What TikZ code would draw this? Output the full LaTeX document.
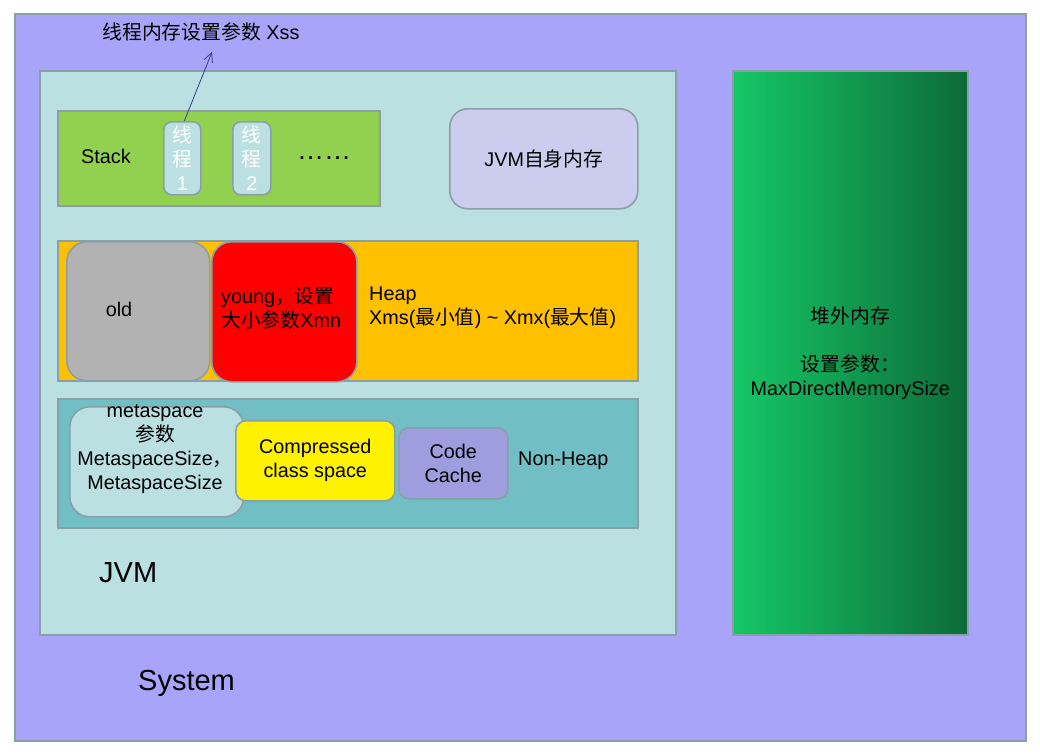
\documentclass[tikz,border=0pt]{standalone}
\usepackage{fontspec}
\setmainfont{Liberation Sans}
\newfontfamily\cjk{Noto Sans CJK SC}
\usetikzlibrary{arrows.meta}
\newcommand\zh[1]{{\cjk #1}}

\definecolor{sysbg}{RGB}{168,164,250}
\definecolor{jvmbg}{RGB}{186,224,226}
\definecolor{stackbg}{RGB}{146,208,80}
\definecolor{selfbg}{RGB}{204,204,238}
\definecolor{heapbg}{RGB}{255,192,0}
\definecolor{oldbg}{RGB}{178,178,178}
\definecolor{nonheapbg}{RGB}{114,190,197}
\definecolor{codebg}{RGB}{158,158,222}
\definecolor{edgegray}{RGB}{138,160,166}
\definecolor{arrowblue}{RGB}{60,60,150}
\definecolor{offleft}{RGB}{22,200,102}
\definecolor{offmid}{RGB}{20,184,95}
\definecolor{offright}{RGB}{12,106,56}

\tikzset{
  area/.style={draw=edgegray, line width=1.6pt, anchor=north west, inner sep=0pt},
  txt/.style={inner sep=0pt, align=center},
}

\begin{document}
\begin{tikzpicture}[x=1pt, y=-1pt, font=\fontsize{19.8}{24}\selectfont]
  \useasboundingbox[fill=white] (0,0) rectangle (1040,753);

  % System and JVM frames
  \node[area, fill=sysbg, minimum width=1011, minimum height=727] (system) at (14,13) {};
  \node[area, fill=jvmbg, minimum width=636, minimum height=564] (jvm) at (39,70) {};

  % Stack with its threads
  \node[area, fill=stackbg, minimum width=322, minimum height=95] (stack) at (57,110) {};
  \node[area, fill=jvmbg, rounded corners=8, minimum width=37, minimum height=73,
        text=white, align=center] (thread1) at (163,121) {\zh{线}\\\zh{程}\\1};
  \node[area, fill=jvmbg, rounded corners=8, minimum width=38, minimum height=73,
        text=white, align=center] (thread2) at (232,121) {\zh{线}\\\zh{程}\\2};
  \node[txt, anchor=west] (stacktext) at (81,156) {Stack};
  \node[txt, anchor=west, font=\fontsize{27}{30}\selectfont] (dots) at (297,158) {……};

  % JVM own memory
  \node[area, fill=selfbg, rounded corners=18, minimum width=188, minimum height=100]
       (self) at (449,108) {JVM\zh{自身内存}};

  % Heap: old and young
  \node[area, fill=heapbg, minimum width=580, minimum height=140] (heap) at (57,240) {};
  \node[area, fill=oldbg, rounded corners=20, minimum width=143, minimum height=139] (old) at (66,241) {};
  \node[area, fill=red, rounded corners=20, minimum width=145, minimum height=140] (young) at (211,241) {};
  \node[txt] (oldtext) at (119,309) {old};
  \node[txt, anchor=west, align=left] (youngtext) at (221,308) {young\zh{，设置}\\\zh{大小参数}Xmn};
  \node[txt, anchor=west, align=left] (heaptext) at (369,308)
       {Heap\\Xms(\zh{最小值}) \textasciitilde{} Xmx(\zh{最大值})};

  % Non-Heap
  \node[area, fill=nonheapbg, minimum width=580, minimum height=129] (nonheap) at (57,398) {};
  \node[area, fill=jvmbg, rounded corners=20, minimum width=174, minimum height=110] (meta) at (69,406) {};
  \node[txt] (metatext) at (155,449) {metaspace\\\zh{参数}\\MetaspaceSize\zh{，}\\ MetaspaceSize};
  \node[area, fill=yellow, rounded corners=10, minimum width=159, minimum height=80,
        align=center] (compressed) at (235,420) {Compressed\\class space};
  \node[area, fill=codebg, rounded corners=10, minimum width=109, minimum height=71,
        align=center] (codecache) at (398,427) {Code\\Cache};
  \node[txt, anchor=west] (nonheaptext) at (518,461) {Non-Heap};

  % Frame labels
  \node[txt, anchor=west, font=\fontsize{29}{34}\selectfont] (jvmtext) at (99,573) {JVM};
  \node[txt, anchor=west, font=\fontsize{29}{34}\selectfont] (systemtext) at (138,683) {System};

  % Off-heap memory
  \node[area, left color=offleft, middle color=offmid, right color=offright,
        minimum width=235, minimum height=564, align=center] (offheap) at (732,70)
       {\zh{堆外内存}\\[24pt]\zh{设置参数：}\\MaxDirectMemorySize};

  % Xss note and arrow
  \node[txt] (xsstext) at (201,32) {\zh{线程内存设置参数} Xss};
  \coordinate (xsstip) at (212,52);
  \draw[arrowblue, line width=0.8pt, -{Straight Barb[length=9pt,width=9pt]}]
       ([xshift=2pt]thread1.north) -- (xsstip);
\end{tikzpicture}
\end{document}
